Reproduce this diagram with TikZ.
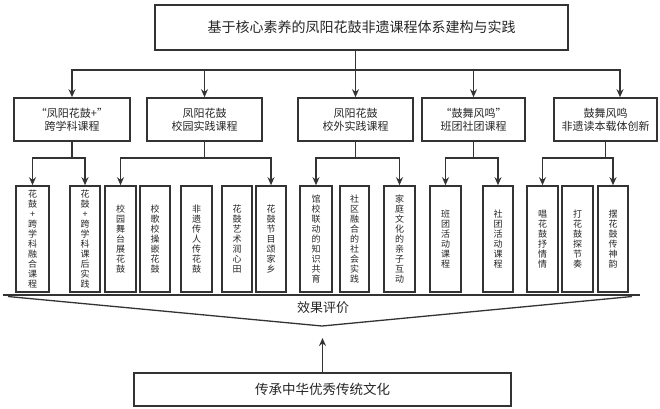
\documentclass[tikz,border=0pt]{standalone}
\usepackage{fontspec}
\setmainfont{Noto Sans CJK SC}
\usetikzlibrary{arrows.meta}

\tikzset{
  line/.style={black!80, line width=1.6pt},
  arr/.style={line, ->},
  box/.style={draw=black!80, line width=1.6pt, inner sep=0pt, align=center, text=black!85},
  gbox/.style={box, minimum width=115pt, minimum height=43pt, font=\fontsize{11}{13}\selectfont},
  lbox/.style={box, minimum width=31pt, minimum height=106pt, font=\fontsize{9}{10}\selectfont},
}

\begin{document}
\begin{tikzpicture}[x=1pt, y=1pt, >={Stealth[length=8pt,width=7pt]}]
\useasboundingbox (0,0) rectangle (660,-408);

% Titel oben
\node[box, minimum width=413pt, minimum height=45pt, font=\fontsize{14}{16}\selectfont] (T) at (361.5,-27.5) {基于核心素养的凤阳花鼓非遗课程体系建构与实践};

% zweite Ebene (5 Kästen)
\node[gbox, minimum width=116pt] (G1) at (72,-119.5) {“凤阳花鼓+”\\跨学科课程};
\node[gbox] (G2) at (204.5,-119.5) {凤阳花鼓\\校园实践课程};
\node[gbox] (G3) at (355.5,-119.5) {凤阳花鼓\\校外实践课程};
\node[gbox, minimum width=103pt] (G4) at (473.5,-119.5) {“鼓舞风鸣”\\班团社团课程};
\node[gbox, minimum width=103pt] (G5) at (605.5,-119.5) {鼓舞风鸣\\非遗读本载体创新};

% dritte Ebene, senkrechte Texte
\node[lbox, minimum width=33pt] (B1) at (32.5,-239) {花\\鼓\\+\\跨\\学\\科\\融\\合\\课\\程};
\node[lbox, minimum width=30pt] (B2) at (85,-239) {花\\鼓\\+\\跨\\学\\科\\课\\后\\实\\践};
\node[lbox] (B3) at (120.5,-239) {校\\园\\舞\\台\\展\\花\\鼓};
\node[lbox, minimum width=30pt] (B4) at (155,-239) {校\\歌\\校\\操\\嵌\\花\\鼓};
\node[lbox] (B5) at (196.5,-239) {非\\遗\\传\\人\\传\\花\\鼓};
\node[lbox, minimum width=30pt] (B6) at (237,-239) {花\\鼓\\艺\\术\\润\\心\\田};
\node[lbox, minimum width=30pt] (B7) at (271,-239) {花\\鼓\\节\\目\\颂\\家\\乡};
\node[lbox, minimum width=32pt] (B8) at (316,-239) {馆\\校\\联\\动\\的\\知\\识\\共\\育};
\node[lbox, minimum width=29pt] (B9) at (354.5,-239) {社\\区\\融\\合\\的\\社\\会\\实\\践};
\node[lbox] (B10) at (399.5,-239) {家\\庭\\文\\化\\的\\亲\\子\\互\\动};
\node[lbox] (B11) at (445.5,-239) {班\\团\\活\\动\\课\\程};
\node[lbox, minimum width=30pt] (B12) at (498,-239) {社\\团\\活\\动\\课\\程};
\node[lbox] (B13) at (542.5,-239) {唱\\花\\鼓\\抒\\情\\情};
\node[lbox] (B14) at (577.5,-239) {打\\花\\鼓\\探\\节\\奏};
\node[lbox, minimum width=30pt] (B15) at (613,-239) {摆\\花\\鼓\\传\\神\\韵};

% Verteiler
\coordinate (bus) at (0,-70);
\coordinate (busR) at (620,-70);
\coordinate (sub) at (0,-158);

\draw[arr] (T.south -| G3.north) -- (G3.north);
\draw[line, <->] (G1.north) |- (busR) -- (busR |- G5.north);
\draw[arr] (G2.north |- bus) -- (G2.north);
\draw[arr] (G4.north |- bus) -- (G4.north);

\foreach \g/\l/\r in {G1/B1/B2, G2/B3/B7, G3/B8/B10, G4/B11/B12, G5/B13/B15} {
  \draw[line] (\g.south) -- (\g.south |- sub);
  \draw[line, <->] (\l.north) |- (\r.north |- sub) -- (\r.north);
}

% Trichter unten
\coordinate (baseL) at (3,-295);
\coordinate (baseR) at (640,-295);
\coordinate (funL) at (8,-296.5);
\coordinate (funR) at (632,-296.5);
\coordinate (apex) at (322,-326);
\draw[line] (baseL) -- (baseR);
\draw[line, line width=1.3pt] (funL) -- (apex) -- (funR);
\node[font=\fontsize{13}{15}\selectfont, text=black!85] (E) at (323,-308) {效果评价};

% Fundament
\node[box, minimum width=377pt, minimum height=33pt, font=\fontsize{13.5}{15}\selectfont] (C) at (322.5,-389.5) {传承中华优秀传统文化};
\coordinate (tip) at (322,-338);
\draw[arr] (C.north) -- (C.north |- tip);

\end{tikzpicture}
\end{document}
